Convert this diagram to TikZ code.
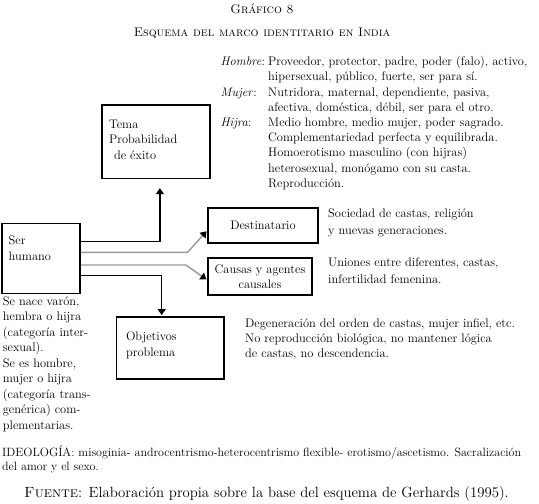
\documentclass[tikz,border=0pt]{standalone}
\usepackage{tikz}
\usetikzlibrary{arrows.meta,positioning}
\newcommand{\bodysize}{\fontsize{12.4}{15.5}\selectfont}
\newcommand{\boxtext}[3]{\parbox[c][#2][t]{#1}{\raggedright #3}}
\tikzset{
    block/.style = { draw, line width = 1.5pt, rectangle, inner sep = 0pt,
        font = \bodysize
    },
    cblock/.style = { block, align = center },
    notes/.style = { align = left, inner sep = 0pt, anchor = north west,
        font = \bodysize
    },
    heading/.style = { anchor = base, inner sep = 0pt },
    arrow/.style = { -{Triangle[width=8pt,length=6pt]}, line width = 1.2pt },
    greyarrow/.style = { line width = 1.4pt, draw = black!40,
        -{Triangle[width=8pt,length=6pt,color=black]}
    }
}

\begin{document}
\begin{tikzpicture}[x=1pt, y=-1pt]
    \useasboundingbox (0,0) rectangle (539,504);

    % Titles...
    \node[heading, font=\fontsize{12.5}{15}\selectfont\scshape] (title) at (262,13) {Gráfico 8};
    \node[heading, font=\fontsize{12.5}{15}\selectfont\scshape] (subtitle) at (262,36) {Esquema del marco identitario en India};

    % Blocks...
    \node[block, inner xsep=7pt, inner ysep=12.8pt] (ser) at (40.9,258.3) {\boxtext{64.3pt}{44.4pt}{Ser\\humano}};
    \node[block, inner xsep=7.3pt, inner ysep=15pt] (tema) at (155.9,141.7) {\boxtext{93.7pt}{43.3pt}{Tema\\Probabilidad\\\hspace*{5pt}de éxito}};
    \node[cblock, minimum width=110pt, minimum height=35pt] (dest) at (263,225.5) {Destinatario};
    \node[cblock, minimum width=104pt, minimum height=37pt] (causas) at (260,276.6) {Causas y agentes\\causales};
    \node[block, inner xsep=9.5pt, inner ysep=15pt] (obj) at (170.3,348) {\boxtext{88.5pt}{32.3pt}{Objetivos\\problema}};

    % Connectors...
    \draw[arrow, shorten >=9pt] ([yshift=16.6pt]ser.east) -| ([xshift=4pt]tema.south);
    \draw[greyarrow, shorten >=1pt] ([yshift=6pt]ser.east) -- ++(106.7,0) -- ([yshift=-5pt]dest.west);
    \draw[greyarrow, shorten >=1pt] ([yshift=-6.7pt]ser.east) -- ++(105,0) -- ([yshift=-3.4pt]causas.west);
    \draw[arrow, shorten >=1pt] ([yshift=-17.4pt]ser.east) -| ([xshift=-8.6pt]obj.north);

    % Notes...
    \node[notes, font=\fontsize{12.4}{15.2}\selectfont] (roles) at (220.5,54.9) {%
        \begin{tabular}{@{}p{47.5pt}@{}l@{}}
            \textit{Hombre}: & Proveedor, protector, padre, poder (falo), activo,\\
                             & hipersexual, público, fuerte, ser para sí.\\
            \textit{Mujer}:  & Nutridora, maternal, dependiente, pasiva,\\
                             & afectiva, doméstica, débil, ser para el otro.\\
            \textit{Hijra}:  & Medio hombre, medio mujer, poder sagrado.\\
                             & Complementariedad perfecta y equilibrada.\\
                             & Homoerotismo masculino (con hijras)\\
                             & heterosexual, monógamo con su casta.\\
                             & Reproducción.
        \end{tabular}};
    \node[notes, font=\fontsize{12.4}{17}\selectfont] (desttxt) at (328,209) {Sociedad de castas, religión\\y nuevas generaciones.};
    \node[notes, font=\fontsize{12.4}{17}\selectfont] (causastxt) at (328,257.7) {Uniones entre diferentes, castas,\\infertilidad femenina.};
    \node[notes, font=\fontsize{12.4}{15}\selectfont] (objtxt) at (245,319) {Degeneración del orden de castas, mujer infiel, etc.\\No reproducción biológica, no mantener lógica\\de castas, no descendencia.};
    \node[notes, font=\fontsize{12.4}{15.5}\selectfont] (sertxt) at (2.7,296.5) {Se nace varón,\\hembra o hijra\\(categoría inter-\\sexual).\\Se es hombre,\\mujer o hijra\\(categoría trans-\\genérica) com-\\plementarias.};
    \node[notes, font=\fontsize{12}{14}\selectfont] (ideo) at (2,445.5) {IDEOLOGÍA: misoginia- androcentrismo-heterocentrismo flexible- erotismo/ascetismo. Sacralización\\del amor y el sexo.};

    % Source...
    \node[heading, font=\fontsize{14.8}{17}\selectfont] (fuente) at (266.5,497) {\textsc{Fuente}: Elaboración propia sobre la base del esquema de Gerhards (1995).};
\end{tikzpicture}
\end{document}
